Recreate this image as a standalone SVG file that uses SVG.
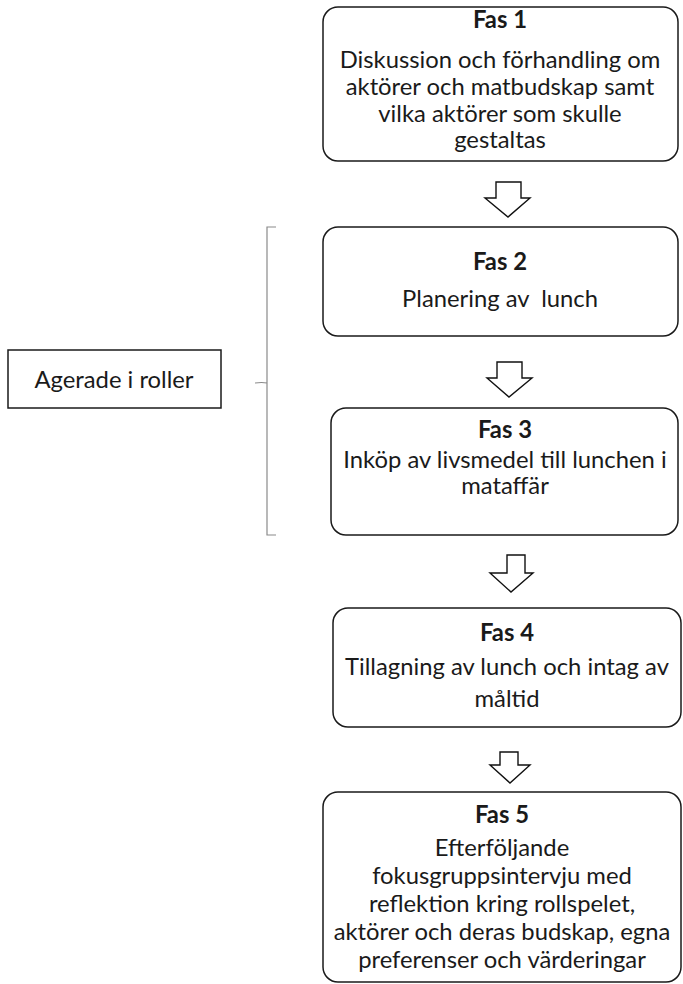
<svg xmlns="http://www.w3.org/2000/svg" width="683" height="984" viewBox="0 0 683 984">
<style>
.box{fill:#fff;stroke:#1a1a1a;stroke-width:1.5}
.t{font-family:Lato,"Open Sans","Liberation Sans",sans-serif;font-size:23.8px;fill:#1a1a1a;text-anchor:middle}
.b{font-weight:bold}
.arr{fill:#fff;stroke:#111;stroke-width:1.4;stroke-linejoin:miter}
.br{fill:none;stroke:#8a8a8a;stroke-width:1.2}
</style>
<rect width="683" height="984" fill="#fff"/>
<g id="fas1">
<rect class="box" x="323" y="7" width="355" height="154" rx="15"/>
<text class="t b" x="500" y="28">Fas 1</text>
<text class="t" x="500" y="68">Diskussion och förhandling om</text>
<text class="t" x="500" y="95">aktörer och matbudskap samt</text>
<text class="t" x="500" y="122">vilka aktörer som skulle</text>
<text class="t" x="500" y="148">gestaltas</text>
</g>
<g id="fas2">
<rect class="box" x="323" y="227" width="355" height="109" rx="15"/>
<text class="t b" x="500" y="270">Fas 2</text>
<text class="t" x="500" y="307" xml:space="preserve">Planering av  lunch</text>
</g>
<g id="fas3">
<rect class="box" x="331" y="408" width="347" height="127" rx="15"/>
<text class="t b" x="505" y="438">Fas 3</text>
<text class="t" x="505" y="468">Inköp av livsmedel till lunchen i</text>
<text class="t" x="505" y="494">mataffär</text>
</g>
<g id="fas4">
<rect class="box" x="333" y="608" width="348" height="119" rx="15"/>
<text class="t b" x="507" y="641">Fas 4</text>
<text class="t" x="507" y="675">Tillagning av lunch och intag av</text>
<text class="t" x="507" y="707">måltid</text>
</g>
<g id="fas5">
<rect class="box" x="323" y="792" width="358" height="190" rx="15"/>
<text class="t b" x="502" y="823">Fas 5</text>
<text class="t" x="502" y="856">Efterföljande</text>
<text class="t" x="502" y="884">fokusgruppsintervju med</text>
<text class="t" x="502" y="912">reflektion kring rollspelet,</text>
<text class="t" x="502" y="940">aktörer och deras budskap, egna</text>
<text class="t" x="502" y="968">preferenser och värderingar</text>
</g>
<g id="agerade">
<rect x="8" y="350" width="213" height="58" fill="#fff" stroke="#1a1a1a" stroke-width="1.5"/>
<text class="t" x="114" y="388">Agerade i roller</text>
</g>
<g id="connectors">
<path class="arr" d="M496,182 H521 V198 H530 L508,217 L485,198 H496 Z"/>
<path class="arr" d="M497,362 H522 V378 H532 L509,397 L487,378 H497 Z"/>
<path class="arr" d="M507,555 H525 V573 H533 L511,592 L490,573 H507 Z"/>
<path class="arr" d="M500,752 H518 V765 H530 L510,783 L490,765 H500 Z"/>
<path class="br" d="M276,227 H267 V535 H276 M267,383 Q262,382 255,383"/>
</g>
</svg>
